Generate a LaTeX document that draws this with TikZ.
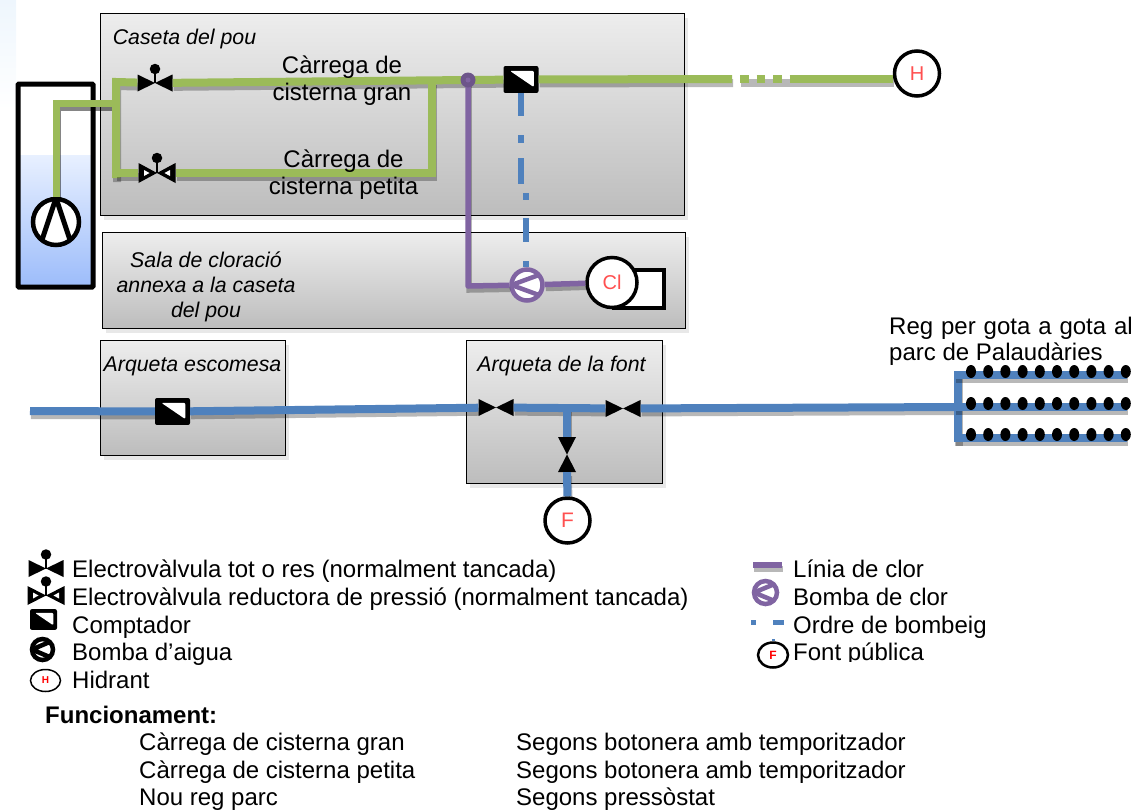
\documentclass[tikz,border=0pt]{standalone}
\usepackage{fontspec}
\setmainfont{Liberation Sans}
\usetikzlibrary{calc, shadows, positioning, shapes.geometric}
\definecolor{pipegreen}{HTML}{9BBB59}
\definecolor{pipeblue}{HTML}{4F81BD}
\definecolor{pipepurple}{HTML}{8064A2}
\definecolor{tagred}{HTML}{FF5050}
\definecolor{waterhigh}{HTML}{E8F0FF}
\definecolor{waterlow}{HTML}{9CBCFA}
\definecolor{edgepale}{HTML}{EEF6FD}
\tikzset{
	housebox/.style={draw=black, line width=1.5pt, top color=black!7, bottom color=black!26, drop shadow={shadow xshift=3pt, shadow yshift=-4pt, opacity=.18}, inner sep=0pt},
	pipeshadow/.style={preaction={draw=black, opacity=.28, line width=#1, transform canvas={xshift=1pt, yshift=-4pt}}},
	greenpipe/.style={draw=pipegreen, line width=8pt, pipeshadow=8pt},
	bluepipe/.style={draw=pipeblue, line width=8pt, pipeshadow=8pt},
	purplepipe/.style={draw=pipepurple, line width=5.5pt, line join=round, pipeshadow=5.5pt},
	orderline/.style={draw=pipeblue, line width=6pt},
	valve/.style={minimum width=35pt, minimum height=17pt, inner sep=0pt, path picture={
		\fill[black] (path picture bounding box.north west) -- (path picture bounding box.south east) -- (path picture bounding box.north east) -- (path picture bounding box.south west) -- cycle;}},
	upvalve/.style={minimum width=18pt, minimum height=35pt, inner sep=0pt, path picture={
		\fill[black] (path picture bounding box.north west) -- (path picture bounding box.north east) -- (path picture bounding box.south west) -- (path picture bounding box.south east) -- cycle;}},
	reducevalve/.style={minimum width=37pt, minimum height=20pt, inner sep=0pt, path picture={
		\fill[black] (path picture bounding box.north west) -- (path picture bounding box.south east) -- (path picture bounding box.north east) -- (path picture bounding box.south west) -- cycle;
		\fill[white] ([shift={(-13pt,3pt)}]path picture bounding box.center) -- ([shift={(-13pt,-3pt)}]path picture bounding box.center) -- ([shift={(-7.5pt,0pt)}]path picture bounding box.center) -- cycle;
		\fill[white] ([shift={(13pt,3pt)}]path picture bounding box.center) -- ([shift={(13pt,-3pt)}]path picture bounding box.center) -- ([shift={(7.5pt,0pt)}]path picture bounding box.center) -- cycle;}},
	meterbox/.style={fill=black, rounded corners=2pt, minimum width=#1, minimum height=0.77*#1, inner sep=0pt, path picture={
		\fill[white] ([shift={(-0.32*#1,0.25*#1)}]path picture bounding box.center) -- ([shift={(0.37*#1,0.25*#1)}]path picture bounding box.center) -- ([shift={(0.37*#1,-0.22*#1)}]path picture bounding box.center) -- cycle;}},
	wellpump/.style={circle, draw=black, fill=white, line width=4.5pt, minimum size=46pt, inner sep=0pt, path picture={
		\draw[black, line width=5pt] ([shift={(-16pt,-24pt)}]path picture bounding box.center) -- ([shift={(0pt,24pt)}]path picture bounding box.center) -- ([shift={(16pt,-24pt)}]path picture bounding box.center);}},
	leftpump/.style 2 args={circle, draw=#1, fill=white, line width=#2, inner sep=0pt, path picture={
		\draw[#1, line width=#2] ([shift={(20pt,13pt)}]path picture bounding box.center) -- (path picture bounding box.west) -- ([shift={(20pt,-13pt)}]path picture bounding box.center);}},
	tapcircle/.style={circle, draw=black, fill=white, line width=3.5pt, inner sep=0pt, text=tagred},
	dripdot/.style={ellipse, fill=black, minimum width=10pt, minimum height=13pt, inner sep=0pt},
	boxlabel/.style={font=\fontsize{21.3}{25}\selectfont\itshape, align=center, inner sep=0pt},
	linelabel/.style={font=\fontsize{24}{27}\selectfont, align=center, inner sep=0pt},
	legendtext/.style={anchor=base west, font=\fontsize{24}{27}\selectfont, inner sep=0pt}
}
\newcommand{\actuator}[2]{\draw[line width=1.5pt] (#1.center) -- ++(0,-#2) node[circle, fill=black, inner sep=0pt, minimum size=10.5pt] {};}
\begin{document}
\begin{tikzpicture}[x=1pt, y=-1pt]
		\useasboundingbox (0,0) rectangle (1139,809);
		\shade[top color=edgepale, bottom color=white] (0,0) rectangle (16,110);
		% well
		\shade[top color=waterhigh, bottom color=waterlow] (18,155) rectangle (93,287);
		\node[draw=black, line width=5pt, rounded corners=1pt, minimum width=75pt, minimum height=203pt, inner sep=0pt] (well) at (55.5,185.5) {};
		% rooms
		\node[housebox, minimum width=584pt, minimum height=202pt] (caseta) at (392.5,114.5) {};
		\node[housebox, minimum width=583pt, minimum height=96pt] (sala) at (394,280.5) {};
		\node[housebox, minimum width=185pt, minimum height=115pt] (escomesa) at (193,398) {};
		\node[housebox, minimum width=196pt, minimum height=143pt] (fontbox) at (564.5,412) {};
		\node[boxlabel] (casetalabel) at (184.5,39) {Caseta del pou};
		\node[boxlabel] (salalabel) at (206,287) {Sala de cloració\\annexa a la caseta\\del pou};
		\node[boxlabel] (escomesalabel) at (192.5,366) {Arqueta escomesa};
		\node[boxlabel] (fontlabel) at (561.5,366) {Arqueta de la font};
		% equipment
		\node[wellpump] (pumpwell) at (56,222) {};
		\node[valve] (vgran) at (155,83) {};
		\actuator{vgran}{14}
		\node[reducevalve] (vpetita) at (157,173) {};
		\actuator{vpetita}{15}
		\node[meterbox=35pt] (mgran) at (521,79.5) {};
		\node[draw=black, fill=white, line width=4pt, minimum width=50pt, minimum height=38pt, inner sep=0pt] (tank) at (639,289) {};
		\node[tapcircle, minimum size=50pt, font=\fontsize{20}{22}\selectfont] (cl) at (612,282.5) {Cl};
		\node[leftpump={pipepurple}{4.5pt}, minimum size=31pt] (pumpcl) at (527,285) {};
		\node[tapcircle, minimum size=45pt, font=\fontsize{20}{22}\selectfont] (hydrant) at (917,73.5) {H};
		\node[meterbox=35pt] (mescomesa) at (172.5,411.5) {};
		\node[valve] (vfonta) at (496,407.5) {};
		\node[valve] (vfontb) at (623,408.5) {};
		\node[upvalve] (vfontc) at (567,454.5) {};
		\node[tapcircle, minimum size=45pt, font=\fontsize{21}{23}\selectfont] (fontpub) at (567.5,520.5) {F};
		\coordinate (wellbend) at (56,103);
		\coordinate (wellin) at (116,103);
		\coordinate (splittop) at (116,82);
		\coordinate (splitbot) at (116,178);
		\coordinate (splitpetita) at (116,173);
		\coordinate (gran) at (432,81);
		\coordinate (petita) at (432,173);
		\coordinate (jclor) at (468,80);
		\coordinate (solidend) at (732,79);
		\coordinate (dashstart) at (740,79);
		\coordinate (dashend) at (797,79);
		% green pipes
		\draw[greenpipe, line width=7pt, pipeshadow=7pt] (pumpwell) -- (wellbend) -- (wellin);
		\draw[greenpipe] (splitbot) -- (splittop) -- (vgran);
		\draw[greenpipe] (vgran) -- (jclor) -- (mgran);
		\draw[greenpipe] (splitpetita) -- (vpetita);
		\draw[greenpipe] (vpetita) -- (petita) -- (gran);
		\draw[greenpipe] (mgran) -- (solidend);
		\draw[greenpipe, dash pattern=on 8.5pt off 8pt] (dashstart) -- (dashend);
		\draw[greenpipe] (dashend) -- (dashend -| hydrant.west);
		% chlorine line
		\coordinate (clorbend) at (468,286);
		\draw[purplepipe] (jclor) -- (clorbend) -- (pumpcl);
		\draw[purplepipe] (pumpcl) -- (cl);
		\node[circle, fill=pipepurple!85!black, minimum size=15pt, inner sep=0pt] (jdot) at (jclor) {};
		\node[circle, fill=pipepurple, minimum size=5pt, inner sep=0pt] (jdotin) at (jclor) {};
		% pump order
		\coordinate (orderstep) at (521,185);
		\coordinate (orderup) at (526,193);
		\draw[orderline, dash pattern=on 23pt off 19pt on 8pt off 15pt on 26pt off 9pt] (mgran.south -| orderstep) -- (orderstep);
		\draw[orderline, dash pattern=on 7pt off 18pt on 24pt off 19pt on 6pt off 30pt] (orderup) -- (pumpcl.north -| orderup);
		% water supply
		\coordinate (supply) at (30,411);
		\coordinate (tee) at (567,408);
		\coordinate (manifold) at (958,407);
		\draw[bluepipe] (supply) -- (mescomesa);
		\draw[bluepipe] (mescomesa) -- (vfonta);
		\draw[bluepipe] (vfonta) -- (vfontb);
		\draw[bluepipe] (vfontb) -- (manifold);
		\draw[bluepipe] (tee) -- (vfontc);
		\draw[bluepipe] (vfontc) -- (fontpub);
		\coordinate (droptop) at (958,371);
		\coordinate (dropbot) at (958,442);
		\draw[bluepipe] (droptop) -- (dropbot);
		\foreach \rowy/\rowname in {375/a, 407/b, 438/c}{
			\coordinate (row\rowname start) at (955,\rowy);
			\coordinate (row\rowname end) at (1127,\rowy);
			\draw[bluepipe] (row\rowname start) -- (row\rowname end);
			\foreach \dotn in {0,...,9}
				\node[dripdot] (drip\rowname\dotn) at (971+17.2*\dotn,\rowy-3.5) {};
		}
		% labels over the pipes
		\node[linelabel] (granlabel) at (342,81) {Càrrega de\\cisterna gran};
		\node[linelabel] (petitalabel) at (343.5,174.5) {Càrrega de\\cisterna petita};
		\node[legendtext, font=\fontsize{24}{26}\selectfont, align=left, anchor=north west] (reglabel) at (889,317) {{\spaceskip=7.9pt Reg per gota a gota al}\\parc de Palaudàries};
		% legend
		\node[valve] (lvalve) at (46,568.5) {};
		\actuator{lvalve}{14}
		\node[reducevalve, minimum height=19pt] (lreduce) at (46,595.5) {};
		\actuator{lreduce}{14}
		\node[meterbox=27pt] (lmeter) at (43.5,619.5) {};
		\node[leftpump={black}{4.5pt}, minimum size=21pt] (lpump) at (42.5,649.5) {};
		\node[ellipse, draw=black, fill=white, line width=1.5pt, minimum width=30pt, minimum height=22pt, inner sep=0pt, text=red, font=\fontsize{10}{11}\selectfont\bfseries] (lhydrant) at (45.5,680.5) {H};
		\node[legendtext] (tvalve) at (72,577) {Electrovàlvula tot o res (normalment tancada)};
		\node[legendtext] (treduce) at (72,605) {Electrovàlvula reductora de pressió (normalment tancada)};
		\node[legendtext] (tmeter) at (72,633) {Comptador};
		\node[legendtext] (tpump) at (72,660) {Bomba d’aigua};
		\node[legendtext] (thydrant) at (72,688) {Hidrant};
		\coordinate (lclorstart) at (753,565);
		\coordinate (lclorend) at (782,565);
		\draw[purplepipe] (lclorstart) -- (lclorend);
		\node[leftpump={pipepurple}{4.5pt}, minimum size=23pt] (lclorpump) at (765.5,592.5) {};
		\coordinate (lorderstart) at (751,622);
		\coordinate (lorderend) at (784,622);
		\draw[draw=pipeblue, line width=5pt, dash pattern=on 5pt off 17pt on 11pt off 20pt] (lorderstart) -- (lorderend);
		\coordinate (lfonttop) at (773,639);
		\node[ellipse, draw=black, fill=white, line width=2.5pt, minimum width=30pt, minimum height=25pt, inner sep=0pt, text=red, font=\fontsize{12}{13}\selectfont\bfseries] (lfont) at (773,655) {F};
		\draw[draw=pipeblue, line width=3pt] (lfonttop) -- (lfont);
		\node[legendtext] (tclor) at (793,577) {Línia de clor};
		\node[legendtext] (tclorpump) at (793,605) {Bomba de clor};
		\node[legendtext] (torder) at (793,633) {Ordre de bombeig};
		\begin{scope}
			\clip (790,635) rectangle (1000,661);
			\node[legendtext] (tfont) at (793,660) {Font pública};
		\end{scope}
		% operation
		\node[legendtext, font=\fontsize{24}{27}\selectfont\bfseries] (funclabel) at (45,723) {Funcionament:};
		\node[legendtext] (modea) at (139,750) {Càrrega de cisterna gran};
		\node[legendtext] (modeb) at (139,778) {Càrrega de cisterna petita};
		\node[legendtext] (modec) at (139,805) {Nou reg parc};
		\node[legendtext] (ctrla) at (516,750) {Segons botonera amb temporitzador};
		\node[legendtext] (ctrlb) at (516,778) {Segons botonera amb temporitzador};
		\node[legendtext] (ctrlc) at (516,805) {Segons pressòstat};
	\end{tikzpicture}
\end{document}
